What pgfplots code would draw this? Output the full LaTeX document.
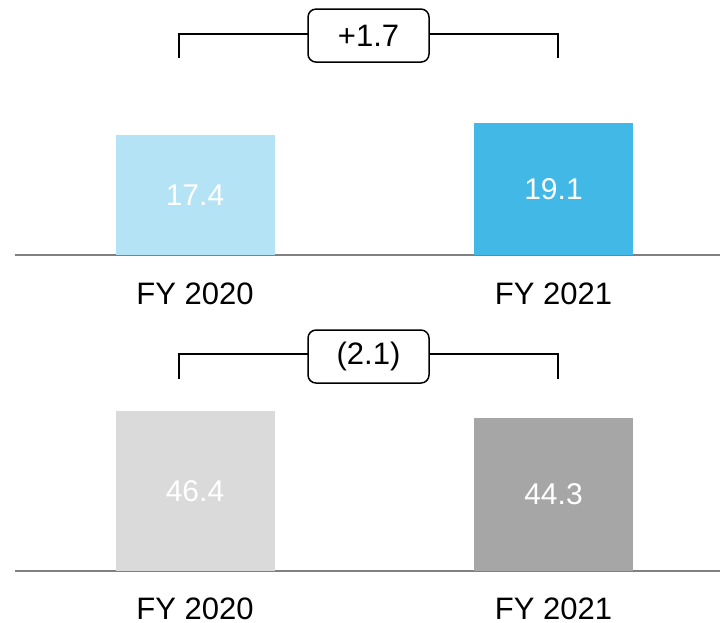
\documentclass[border=0pt]{standalone}
\usepackage{fontspec}
\setmainfont{Liberation Sans}
\usepackage{pgfplots}
\pgfplotsset{compat=1.18}
\definecolor{lblue}{HTML}{B3E3F5}
\definecolor{dblue}{HTML}{41B8E6}
\definecolor{lgray}{HTML}{DADADA}
\definecolor{dgray}{HTML}{A6A6A6}
\definecolor{axgray}{HTML}{808080}
\pgfplotsset{
  panel/.style={
    scale only axis, width=352.5pt, height=120pt,
    xmin=-0.5021, xmax=1.4644, ymin=0,
    axis x line=bottom, axis y line=none,
    x axis line style={-, axgray, line width=1pt},
    xtick={0,1}, xticklabels={FY 2020, FY 2021},
    major tick length=0pt,
    xticklabel style={font=\fontsize{15.5}{18}\selectfont, anchor=base, inner sep=0pt, yshift=-24.5pt},
    ytick=\empty,
    clip=false,
    ybar, bar width=79.5pt, bar shift=0pt,
    every axis plot/.append style={draw=none},
    nodes near coords,
    visualization depends on=y \as \rawy,
    nodes near coords style={font=\fontsize{15}{18}\selectfont, text=white, anchor=center,
      shift={(axis direction cs:0,-\rawy/2)}},
    point meta=explicit symbolic,
  },
}
\tikzset{
  bracket/.style={black, line width=0.75pt},
  dbox/.style={draw=black, line width=0.75pt, fill=white, rounded corners=4pt,
    minimum width=60.5pt, minimum height=26.5pt, inner sep=0pt, font=\fontsize{15.5}{18}\selectfont},
}
\begin{document}
\begin{tikzpicture}
\path[use as bounding box] (0,0) rectangle (360pt,311.5pt);
% top panel
\begin{axis}[panel, at={(7.5pt,184pt)}, anchor=south west, ymax=34.78]
\addplot[fill=lblue] coordinates {(0,17.4) [17.4]};
\addplot[fill=dblue] coordinates {(1,19.1) [19.1]};
\draw[bracket] (axis cs:-0.0446,28.55) |- (axis cs:1.0126,32.03) -- (axis cs:1.0126,28.55);
\node[dbox] at (axis cs:0.484,31.8) {+1.7};
\end{axis}
% bottom panel
\begin{axis}[panel, at={(7.5pt,26pt)}, anchor=south west, ymax=69.57]
\addplot[fill=lgray] coordinates {(0,46.4) [46.4]};
\addplot[fill=dgray] coordinates {(1,44.3) [44.3]};
\draw[bracket] (axis cs:-0.0446,55.65) |- (axis cs:1.0126,62.9) -- (axis cs:1.0126,55.65);
\node[dbox] at (axis cs:0.484,62.17) {(2.1)};
\end{axis}
\end{tikzpicture}
\end{document}
